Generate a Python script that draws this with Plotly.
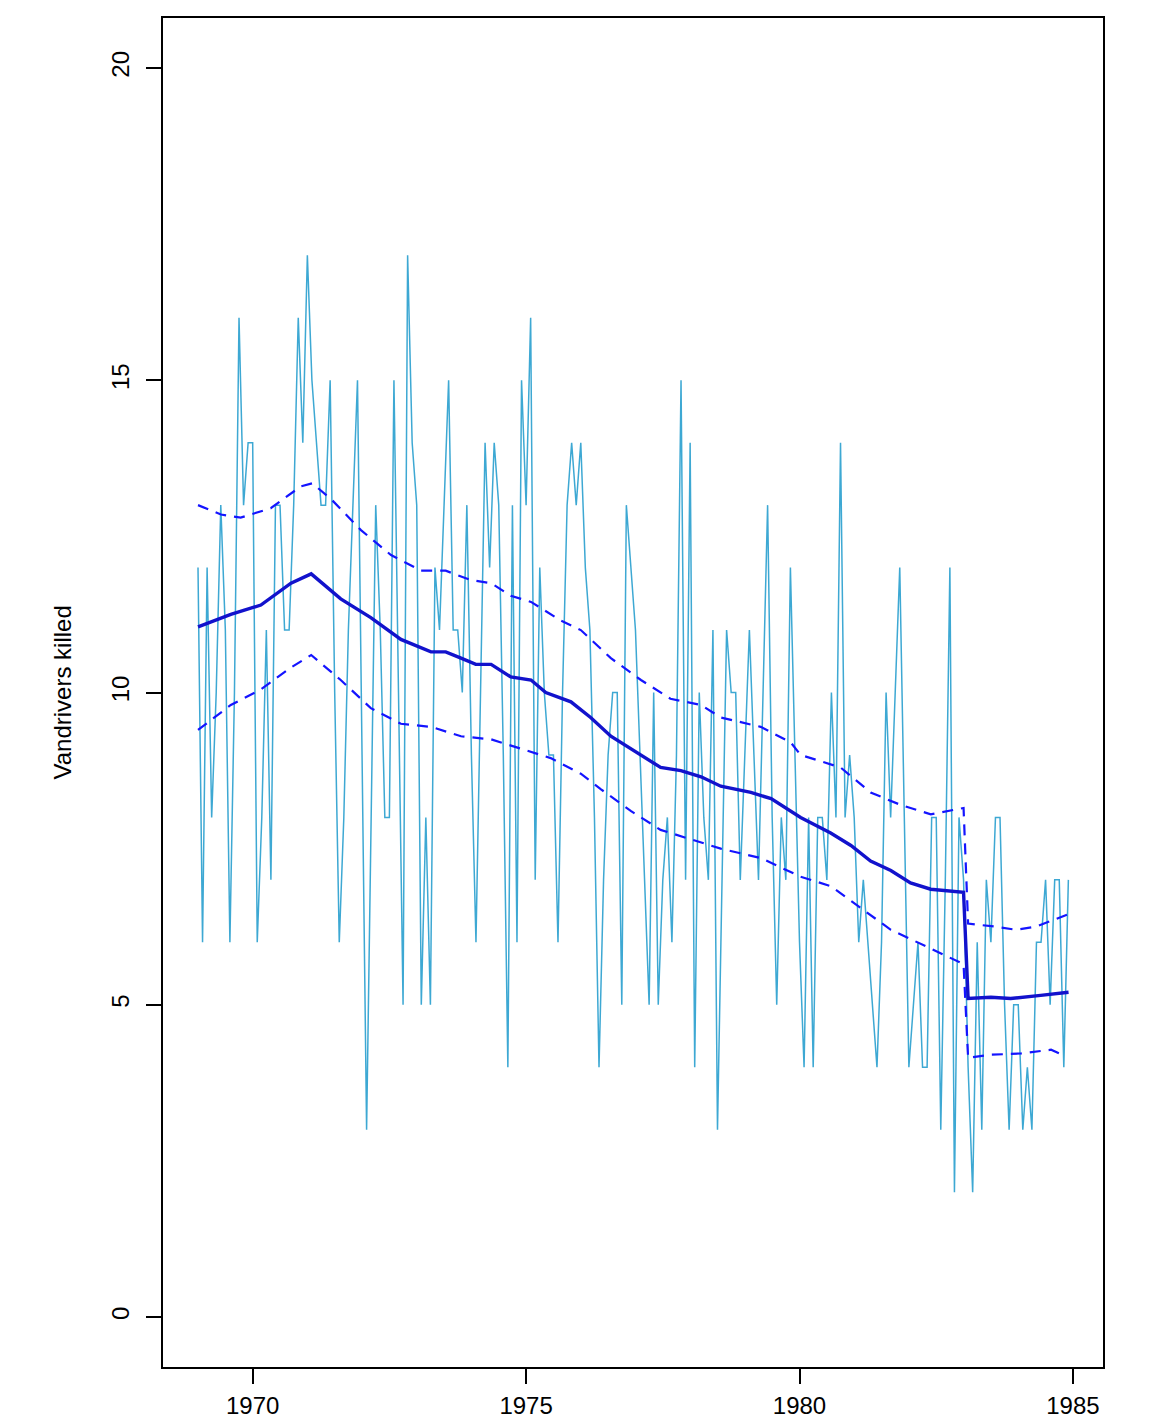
import plotly.graph_objects as go

# Monthly van drivers killed, Jan 1969 - Dec 1984
start_year = 1969
van_killed = [
    12, 6, 12, 8, 10, 13, 11, 6, 10, 16, 13, 14,   # 1969
    14, 6, 8, 11, 7, 13, 13, 11, 11, 13, 16, 14,   # 1970
    17, 15, 14, 13, 13, 15, 10, 6, 8, 11, 13, 15,  # 1971
    9, 3, 8, 13, 11, 8, 8, 15, 10, 5, 17, 14,      # 1972
    13, 5, 8, 5, 12, 11, 13, 15, 11, 11, 10, 13,   # 1973
    9, 6, 10, 14, 12, 14, 13, 9, 4, 13, 6, 15,     # 1974
    13, 16, 7, 12, 10, 9, 9, 6, 10, 13, 14, 13,    # 1975
    14, 12, 11, 8, 4, 7, 9, 10, 10, 5, 13, 12,     # 1976
    11, 9, 7, 5, 10, 5, 7, 8, 6, 9, 15, 7,         # 1977
    14, 4, 10, 8, 7, 11, 3, 7, 11, 10, 10, 7,      # 1978
    9, 11, 9, 7, 10, 13, 8, 5, 8, 7, 12, 9,        # 1979
    6, 4, 8, 4, 8, 8, 7, 10, 8, 14, 8, 9,          # 1980
    8, 6, 7, 6, 5, 4, 6, 10, 8, 10, 12, 8,         # 1981
    4, 5, 6, 4, 4, 8, 8, 3, 7, 12, 2, 8,           # 1982
    7, 4, 2, 6, 3, 7, 6, 8, 8, 5, 3, 5,            # 1983
    5, 3, 4, 3, 6, 6, 7, 5, 7, 7, 4, 7,            # 1984
]
months = [start_year + i / 12 for i in range(len(van_killed))]

# Smoothed level
trend_t = [1969.00, 1969.60, 1970.15, 1970.70, 1971.07, 1971.61, 1972.16, 1972.71,
           1973.26, 1973.53, 1973.81, 1974.08, 1974.36, 1974.72, 1975.09, 1975.36,
           1975.82, 1976.18, 1976.55, 1976.92, 1977.46, 1977.83, 1978.20, 1978.56,
           1979.11, 1979.48, 1980.02, 1980.57, 1980.94, 1981.30, 1981.67, 1982.03,
           1982.40, 1983.00, 1983.083, 1983.50, 1983.86, 1984.41, 1984.92]
trend_v = [11.05, 11.25, 11.40, 11.75, 11.90, 11.50, 11.20, 10.85,
           10.65, 10.65, 10.55, 10.45, 10.45, 10.25, 10.20, 10.00,
           9.85, 9.60, 9.30, 9.10, 8.80, 8.75, 8.65, 8.50,
           8.40, 8.30, 8.00, 7.75, 7.55, 7.30, 7.15, 6.95,
           6.85, 6.80, 5.10, 5.12, 5.10, 5.15, 5.20]

upper_t = [1969.00, 1969.42, 1969.78, 1970.33, 1970.88, 1971.09, 1971.43, 1971.98,
           1972.53, 1973.08, 1973.53, 1973.99, 1974.36, 1974.72, 1975.09, 1975.64,
           1976.00, 1976.55, 1977.10, 1977.64, 1978.20, 1978.56, 1979.29, 1979.84,
           1980.02, 1980.75, 1981.30, 1981.85, 1982.40, 1983.00, 1983.083, 1983.59,
           1983.96, 1984.32, 1984.92]
upper_v = [13.00, 12.85, 12.80, 12.95, 13.30, 13.35, 13.10, 12.60,
           12.20, 11.95, 11.95, 11.80, 11.75, 11.55, 11.45, 11.15,
           11.00, 10.55, 10.20, 9.90, 9.80, 9.60, 9.45, 9.20,
           9.00, 8.80, 8.40, 8.20, 8.05, 8.15, 6.30, 6.25,
           6.20, 6.25, 6.45]

lower_t = [1969.00, 1969.60, 1970.15, 1970.70, 1971.07, 1971.61, 1972.16, 1972.71,
           1973.26, 1973.81, 1974.36, 1974.90, 1975.45, 1976.00, 1976.37, 1976.92,
           1977.46, 1978.01, 1978.56, 1979.29, 1980.02, 1980.57, 1981.12, 1981.67,
           1982.40, 1983.00, 1983.083, 1983.50, 1984.05, 1984.60, 1984.81]
lower_v = [9.40, 9.80, 10.05, 10.40, 10.60, 10.20, 9.75, 9.50,
           9.45, 9.30, 9.25, 9.10, 8.95, 8.70, 8.45, 8.10,
           7.80, 7.65, 7.50, 7.35, 7.05, 6.90, 6.55, 6.20,
           5.90, 5.65, 4.15, 4.20, 4.22, 4.28, 4.20]

x_ticks = [1970, 1975, 1980, 1985]
y_ticks = [0, 5, 10, 15, 20]
y_label = "Vandrivers killed"

FONT = "Liberation Sans, Arial, Helvetica, sans-serif"

fig = go.Figure()
fig.add_trace(go.Scatter(x=months, y=van_killed, mode="lines",
                         line=dict(color="rgba(40,158,206,0.9)", width=1.5),
                         showlegend=False, hoverinfo="skip"))
fig.add_trace(go.Scatter(x=upper_t, y=upper_v, mode="lines",
                         line=dict(color="#1414ff", width=2.2, dash="11px,8px"),
                         showlegend=False, hoverinfo="skip"))
fig.add_trace(go.Scatter(x=lower_t, y=lower_v, mode="lines",
                         line=dict(color="#1414ff", width=2.2, dash="11px,8px"),
                         showlegend=False, hoverinfo="skip"))
fig.add_trace(go.Scatter(x=trend_t, y=trend_v, mode="lines",
                         line=dict(color="#1212cc", width=3.4),
                         showlegend=False, hoverinfo="skip"))

axis_common = dict(showgrid=False, zeroline=False, showline=True, linecolor="black",
                   linewidth=1.5, mirror=True, ticks="outside", ticklen=15,
                   tickwidth=1.5, tickcolor="black", automargin=False,
                   tickfont=dict(family=FONT, size=24, color="black"))

fig.update_xaxes(range=[1968.36, 1985.55], tickvals=x_ticks,
                 ticktext=[str(v) for v in x_ticks], ticklabelstandoff=1,
                 **axis_common)
fig.update_yaxes(range=[-0.8, 20.8], tickvals=y_ticks,
                 ticktext=[str(v) for v in y_ticks], tickangle=-90,
                 ticklabelstandoff=8, **axis_common)

fig.add_annotation(text=y_label, xref="paper", yref="paper",
                   x=-0.1074, y=0.5, xanchor="center", yanchor="middle",
                   textangle=-90, showarrow=False,
                   font=dict(family=FONT, size=24, color="black"))

fig.update_layout(width=1152, height=1418, autosize=False,
                  margin=dict(l=163, r=49, t=18, b=51, autoexpand=False),
                  plot_bgcolor="white", paper_bgcolor="white",
                  font=dict(family=FONT, size=24, color="black"))

fig.write_html("out.html", config={"displayModeBar": False},
               post_script="document.body.style.margin='0';"
                           "document.body.style.overflow='hidden';")
